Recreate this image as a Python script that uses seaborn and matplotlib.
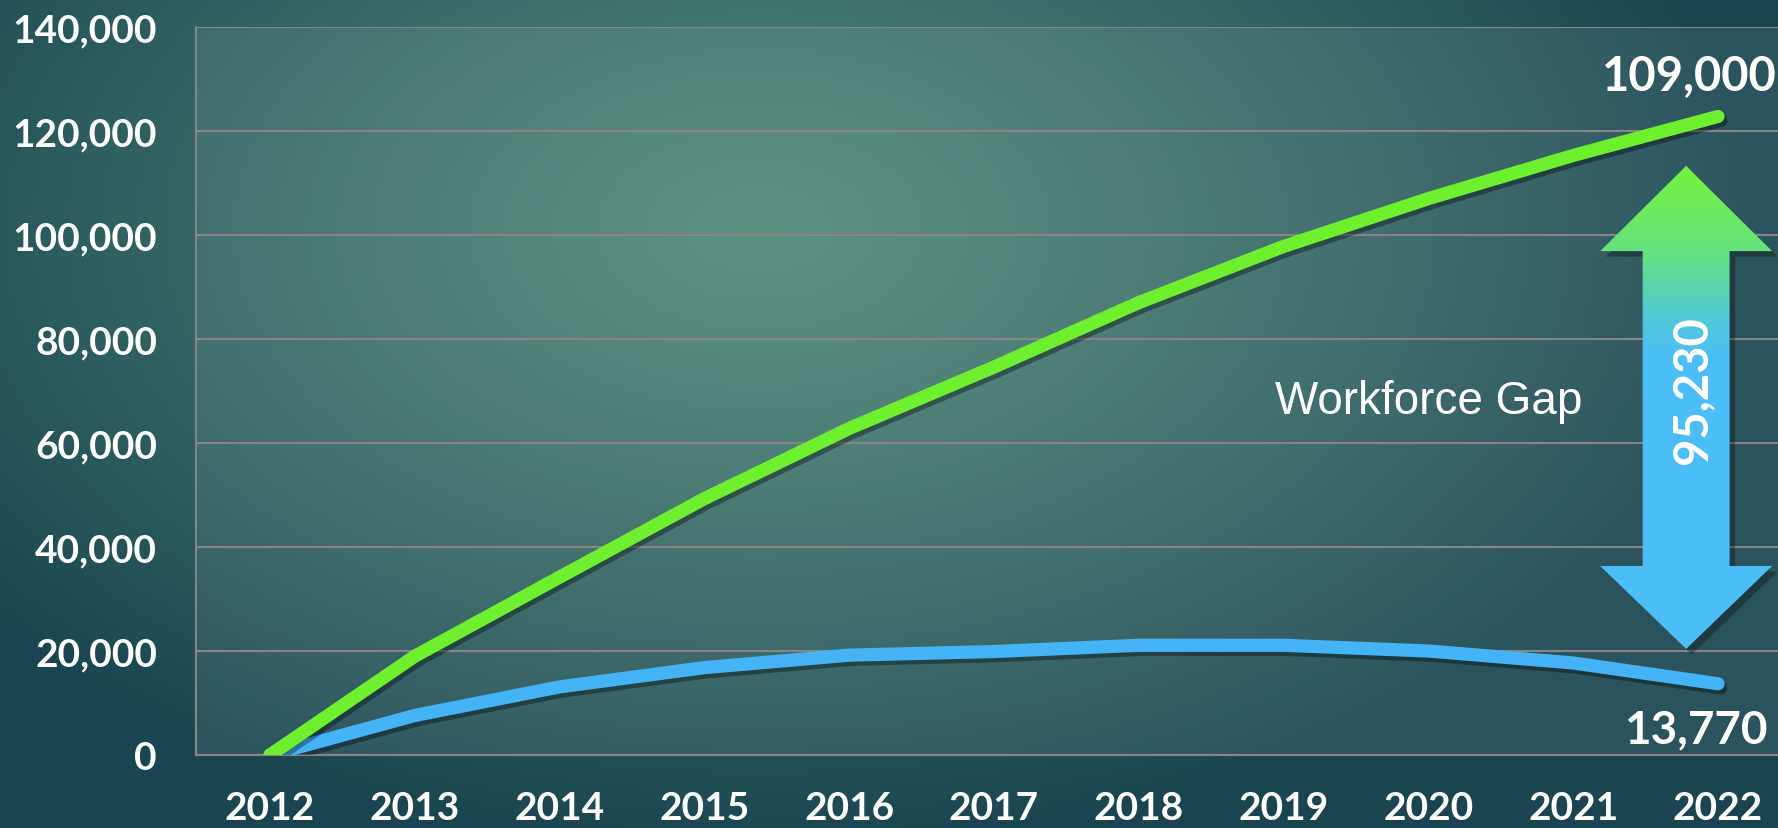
import matplotlib
matplotlib.use("Agg")
import matplotlib.pyplot as plt
import matplotlib.patheffects as pe
from matplotlib.colors import LinearSegmentedColormap, to_rgb
from matplotlib.patches import Polygon
from matplotlib import transforms
import numpy as np
import pandas as pd
import seaborn as sns

# data
years = [2012, 2013, 2014, 2015, 2016, 2017, 2018, 2019, 2020, 2021, 2022]
demand = [0, 19000, 34200, 49300, 62800, 74600, 87000, 97800, 107000, 115300, 122800]
supply = [0, 7600, 13100, 16800, 19200, 19900, 21100, 21100, 20000, 17700, 13700]
demand_label = '109,000'
supply_label = '13,770'
gap_label = '95,230'
gap_text = 'Workforce Gap'
y_ticks = [0, 20000, 40000, 60000, 80000, 100000, 120000, 140000]

GREEN = '#6EF02E'
BLUE = '#45B4F6'

sns.set_style('white')
plt.rcParams['font.family'] = ['Lato', 'DejaVu Sans']

W, H = 1778, 829
fig = plt.figure(figsize=(W / 100, H / 100), dpi=100)

# background: radial teal gradient
bg = fig.add_axes([0, 0, 1, 1])
bg.axis('off')
yy, xx = np.mgrid[0:H, 0:W]
d = np.sqrt(((xx - 760) / 1000.0) ** 2 + ((yy - 230) / 620.0) ** 2)
d = np.clip(d, 0, 1) ** 1.2
c0 = np.array(to_rgb('#4F8878'))
c1 = np.array(to_rgb('#1A4550'))
img = c0[None, None, :] * (1 - d[..., None]) + c1[None, None, :] * d[..., None]
bg.imshow(img, aspect='auto', extent=[0, 1, 0, 1], origin='upper')
bg.set_xlim(0, 1)
bg.set_ylim(0, 1)

left, top, bottom = 196, 28, 756
ax = fig.add_axes([left / W, (H - bottom) / H, (W - left) / W, (bottom - top) / H])
ax.set_facecolor((1, 1, 1, 0.08))

px_year = 144.8
xlim = (2012 - (270 - left) / px_year, 2022 + (W - 1718) / px_year)
ylim = (0, 140000)

shadow = [pe.SimpleLineShadow(offset=(2, -3), shadow_color='k', alpha=0.35), pe.Normal()]
df = pd.DataFrame({'year': years, 'demand': demand, 'supply': supply})
sns.lineplot(data=df, x='year', y='demand', ax=ax, color=GREEN, lw=9.5,
             solid_capstyle='round', path_effects=shadow, zorder=5)
sns.lineplot(data=df, x='year', y='supply', ax=ax, color=BLUE, lw=9.5,
             solid_capstyle='round', path_effects=shadow, zorder=4)

# gap arrow
cx, hw, sw = 2021.78, 0.594, 0.30
a_top, a_hb, a_lb, a_bot = 113300, 96900, 36350, 20400
verts = [(cx, a_top), (cx + hw, a_hb), (cx + sw, a_hb), (cx + sw, a_lb), (cx + hw, a_lb),
         (cx, a_bot), (cx - hw, a_lb), (cx - sw, a_lb), (cx - sw, a_hb), (cx - hw, a_hb)]
sh_tr = transforms.offset_copy(ax.transData, fig=fig, x=4, y=-4, units='points')
ax.add_patch(Polygon(verts, closed=True, facecolor='k', alpha=0.3, edgecolor='none',
                     transform=sh_tr, zorder=6))
clip = Polygon(verts, closed=True, facecolor='none', edgecolor='none', transform=ax.transData)
ax.add_patch(clip)
cmap = LinearSegmentedColormap.from_list('gap', [(0, '#4BBEF8'), (0.60, '#4BBEF8'),
                                                 (0.689, '#52C8D6'), (0.824, '#66E27E'),
                                                 (1, '#74F23C')])
grad = np.linspace(0, 1, 256).reshape(-1, 1)
im = ax.imshow(grad, cmap=cmap, aspect='auto', origin='lower',
               extent=[cx - hw, cx + hw, a_bot, a_top], zorder=7)
im.set_clip_path(clip)

ax.text(2021.82, 70400, gap_label, rotation=90, ha='center', va='center', color='white',
        fontsize=34, fontweight='bold', zorder=8)
ax.text(2020.0, 65800, gap_text, ha='center', va='baseline', color='white',
        fontsize=33, family=['Liberation Sans', 'DejaVu Sans'], zorder=8)

ax.annotate(demand_label, (years[-1], demand[-1]), xytext=(-21, 29.5), textcoords='offset points',
            ha='center', va='center', color='white', fontsize=34, fontweight='bold', zorder=8)
ax.annotate(supply_label, (years[-1], supply[-1]), xytext=(-16, -33), textcoords='offset points',
            ha='center', va='center', color='white', fontsize=33, fontweight='bold', zorder=8)

ax.set_xlim(*xlim)
ax.set_ylim(*ylim)
ax.set_xticks(years)
ax.set_yticks(y_ticks)
ax.set_yticklabels(['{:,}'.format(v) for v in y_ticks])
ax.set_xlabel('')
ax.set_ylabel('')
ax.grid(axis='y', color='#8A8585', lw=1.5)
ax.grid(axis='x', visible=False)
ax.tick_params(axis='both', length=0, labelcolor='white', labelsize=28)
ax.tick_params(axis='x', pad=25)
ax.tick_params(axis='y', pad=28)
for lab in ax.get_xticklabels() + ax.get_yticklabels():
    lab.set_fontweight('bold')
for s in ['top', 'right']:
    ax.spines[s].set_visible(False)
for s in ['left', 'bottom']:
    ax.spines[s].set_color('#8A8585')
    ax.spines[s].set_linewidth(1.5)

fig.savefig('out.png', dpi=100)
